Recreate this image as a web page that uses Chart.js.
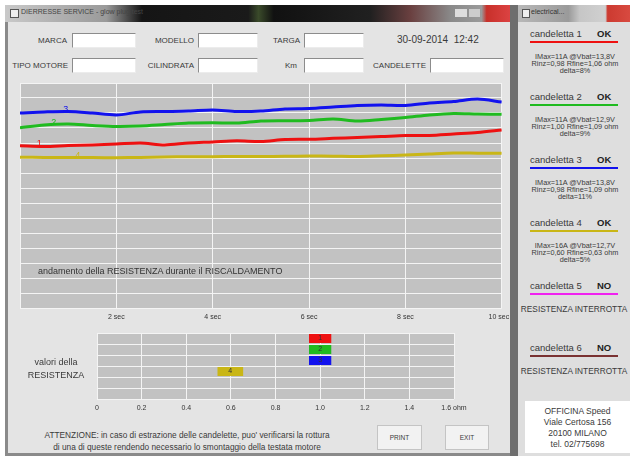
<!DOCTYPE html>
<html>
<head>
<meta charset="utf-8">
<script src="https://cdn.jsdelivr.net/npm/chart.js@4.4.1/dist/chart.umd.min.js"></script>
<style>
  body { margin:0; width:630px; height:459px; background:#fff; position:relative; overflow:hidden;
         font-family:"Liberation Sans", Arial, sans-serif; color:#3a3a3a; }
  .a { position:absolute; white-space:nowrap; }
  .lbl { font-size:8px; text-align:right; line-height:10px; }
  .inp { background:#fff; border:1px solid; border-color:#8c8c8c #ececec #ececec #8c8c8c; height:13px; }
  .btn { background:#f2f2f2; border:1px solid #c4c4c4; font-size:6.5px; text-align:center; line-height:23px; }
  .rc { left:518px; width:112px; text-align:center; }
</style>
</head>
<body>
<!-- finestra principale -->
<div class="a" style="left:5px;top:5px;width:507px;height:451px;background:#e4e4e4;"></div>
<div class="a" style="left:5px;top:5px;width:3px;height:451px;background:#8a8a8a;"></div>
<div class="a" style="left:5px;top:453px;width:507px;height:3px;background:#8a8a8a;"></div>
<div class="a" style="left:5px;top:5px;width:507px;height:17px;
  background:linear-gradient(90deg,#c9c9c9 0%,#9a9a9a 20%,#151515 27%,#1a1a1a 48%,#3a4a2a 50%,#111 53%,#202020 72%,#6a4040 80%,#8a8a8a 88%,#9a9a9a 94%,#c8302a 95%,#d44 100%);"></div>
<div class="a" style="left:10px;top:9px;width:7px;height:7px;background:#eee;border:1px solid #555;"></div>
<div class="a" style="left:21px;top:8px;font-size:7px;color:#444;">DIERRESSE SERVICE - glow plug test</div>
<div class="a" style="left:455px;top:9px;width:12px;height:8px;background:#ddd;"></div>
<div class="a" style="left:469px;top:9px;width:11px;height:8px;background:#ccc;"></div>

<!-- finestra laterale -->
<div class="a" style="left:510px;top:5px;width:8px;height:451px;background:#6e6e6e;"></div>
<div class="a" style="left:518px;top:5px;width:112px;height:451px;background:#dedede;"></div>
<div class="a" style="left:518px;top:5px;width:112px;height:17px;
  background:linear-gradient(90deg,#b8b8b8 0%,#9a9a9a 45%,#c6c6c6 55%,#d0d0d0 78%,#cc3a30 80%,#d84a40 100%);"></div>
<div class="a" style="left:522px;top:9px;width:6px;height:7px;background:#eee;border:1px solid #555;"></div>
<div class="a" style="left:531px;top:8px;font-size:7px;color:#333;">electrical...</div>
<div class="a" style="left:525px;top:401px;width:105px;height:52px;background:#fff;"></div>

<div id="form"></div>
<div id="side"></div>

<div class="a" style="left:10px;top:78px;width:510px;height:250px;"><canvas id="curve"></canvas></div>
<div class="a" style="left:38px;top:266px;font-size:9px;color:#333;">andamento della RESISTENZA durante il RISCALDAMENTO</div>

<div class="a" style="left:87px;top:328px;width:390px;height:90px;"><canvas id="values"></canvas></div>
<div class="a" style="left:20px;top:356px;width:72px;font-size:9px;line-height:13px;text-align:center;">valori della<br>RESISTENZA</div>

<div class="a" style="left:17px;top:429px;width:340px;font-size:8.3px;line-height:12px;text-align:center;">ATTENZIONE: in caso di estrazione delle candelette, puo' verificarsi la rottura<br>di una di queste rendendo necessario lo smontaggio della testata motore</div>
<div class="a btn" style="left:377px;top:425px;width:43px;height:23px;">PRINT</div>
<div class="a btn" style="left:445px;top:425px;width:42px;height:23px;">EXIT</div>

<script>
// tempo di riscaldamento (sec) e andamento della resistenza per candeletta
const timeSec = [0, 0.5, 1, 1.5, 2, 2.5, 3, 3.5, 4, 4.5, 5, 5.5, 6, 6.5, 7, 7.5, 8, 8.5, 9, 9.5, 10];
const curve1 = [10.82, 10.77, 10.83, 10.87, 10.93, 11.0, 10.87, 11.0, 11.07, 11.15, 11.1, 11.23, 11.25, 11.31, 11.37, 11.43, 11.5, 11.5, 11.6, 11.7, 11.87];
const curve2 = [12.02, 12.2, 12.27, 12.17, 12.1, 12.13, 12.23, 12.33, 12.35, 12.33, 12.47, 12.49, 12.5, 12.6, 12.47, 12.57, 12.7, 12.87, 12.97, 12.93, 12.91];
const curve3 = [13.0, 13.07, 13.1, 13.0, 12.87, 13.07, 13.1, 13.13, 13.2, 13.1, 13.13, 13.27, 13.3, 13.4, 13.5, 13.53, 13.5, 13.67, 13.77, 13.93, 13.73];
const curve4 = [10.05, 10.04, 10.03, 10.03, 10.02, 10.04, 10.07, 10.08, 10.09, 10.1, 10.1, 10.11, 10.13, 10.12, 10.1, 10.15, 10.2, 10.27, 10.33, 10.32, 10.31];
const curveTagSec = [0.4, 0.7, 0.95, 1.2];

// valori della resistenza (ohm), barra da..a
const plugNames = ['1', '2', '3', '4', '5', '6'];
const resFrom = [0.95, 0.95, 0.95, 0.54, null, null];
const resTo = [1.05, 1.05, 1.05, 0.655, null, null];

const plugStatus = ['OK', 'OK', 'OK', 'OK', 'NO', 'NO'];
const plugInfo = [
  ['IMax=11A  @Vbat=13,8V', 'Rinz=0,98  Rfine=1,06 ohm', 'delta=8%'],
  ['IMax=11A  @Vbat=12,9V', 'Rinz=1,00  Rfine=1,09 ohm', 'delta=9%'],
  ['IMax=11A  @Vbat=13,8V', 'Rinz=0,98  Rfine=1,09 ohm', 'delta=11%'],
  ['IMax=16A  @Vbat=12,7V', 'Rinz=0,60  Rfine=0,63 ohm', 'delta=5%'],
  ['RESISTENZA INTERROTTA'],
  ['RESISTENZA INTERROTTA']
];
const plugColors = ['#ee1111', '#20bb20', '#1212ee', '#c9b616', '#f022f0', '#7a3232'];

// campi del modulo
const form = document.getElementById('form');
[
  ['MARCA', 67, 72, 62, 33], ['MODELLO', 194, 198, 58, 33], ['TARGA', 300, 304, 58, 33],
  ['TIPO MOTORE', 68, 72, 62, 58], ['CILINDRATA', 194, 198, 58, 58], ['Km', 297, 304, 58, 58],
  ['CANDELETTE', 426, 430, 72, 58]
].forEach(([t, r, x, w, y]) => {
  form.insertAdjacentHTML('beforeend',
    `<div class="a lbl" style="left:${r - 80}px;width:80px;top:${y + 3}px;">${t}</div>` +
    `<div class="a inp" style="left:${x}px;top:${y}px;width:${w}px;"></div>`);
});
form.insertAdjacentHTML('beforeend', '<div class="a" style="left:397px;top:34px;font-size:10px;">30-09-2014&nbsp;&nbsp;12:42</div>');

// pannello candelette
const side = document.getElementById('side');
const tops = [28, 91, 154, 217, 280, 342];
plugNames.forEach((n, i) => {
  const y = tops[i];
  let h = `<div class="a" style="left:530px;top:${y}px;font-size:9.5px;">candeletta ${n}</div>` +
          `<div class="a" style="left:597px;top:${y}px;font-size:9.5px;font-weight:bold;color:#222;">${plugStatus[i]}</div>`;
  h += `<div class="a" style="left:530px;top:${y + 13}px;width:88px;height:2px;background:${plugColors[i]};"></div>`;
  if (plugInfo[i].length > 1) {
    h += `<div class="a rc" style="top:${y + 25}px;left:519px;font-size:7.3px;line-height:7px;">${plugInfo[i].join('<br>')}</div>`;
  } else {
    h += `<div class="a rc" style="top:${y + 24}px;font-size:8.3px;">${plugInfo[i][0]}</div>`;
  }
  side.insertAdjacentHTML('beforeend', h);
});
side.insertAdjacentHTML('beforeend',
  '<div class="a" style="left:525px;top:406px;width:105px;text-align:center;font-size:8.5px;line-height:11px;">OFFICINA Speed<br>Viale Certosa 156<br>20100 MILANO<br>tel. 02/775698</div>');

const plotBg = {
  id: 'plotBg',
  beforeDraw(c) {
    const a = c.chartArea, ctx = c.ctx;
    ctx.save();
    ctx.fillStyle = '#c2c2c2';
    ctx.fillRect(a.left, a.top, a.right - a.left, a.bottom - a.top);
    ctx.restore();
  }
};

const curveTags = {
  id: 'curveTags',
  afterDatasetsDraw(c) {
    const ctx = c.ctx, xs = c.scales.x, ys = c.scales.y;
    ctx.save();
    ctx.font = '9px "Liberation Sans", Arial';
    ctx.textAlign = 'center';
    ctx.textBaseline = 'bottom';
    c.data.datasets.forEach((ds, i) => {
      const t = curveTagSec[i];
      const k = Math.min(Math.floor(t / 0.5), timeSec.length - 2);
      const f = (t - timeSec[k]) / (timeSec[k + 1] - timeSec[k]);
      const v = ds.data[k].y + (ds.data[k + 1].y - ds.data[k].y) * f;
      ctx.fillStyle = ds.borderColor;
      ctx.fillText(ds.label, xs.getPixelForValue(t), ys.getPixelForValue(v) + 2);
    });
    ctx.restore();
  }
};

const curves = [curve1, curve2, curve3, curve4];
new Chart(document.getElementById('curve'), {
  type: 'line',
  data: {
    datasets: curves.map((d, i) => ({
      label: plugNames[i],
      data: d.map((v, k) => ({ x: timeSec[k], y: v })),
      borderColor: plugColors[i],
      borderWidth: 3,
      pointRadius: 0,
      tension: 0.3
    }))
  },
  options: {
    responsive: true, maintainAspectRatio: false, animation: false,
    layout: { padding: { left: 10, right: 18, top: 5, bottom: 0 } },
    plugins: { legend: { display: false }, tooltip: { enabled: false } },
    scales: {
      x: {
        type: 'linear', min: 0, max: 10,
        ticks: { stepSize: 2, padding: 5, color: '#333', font: { size: 7 },
                 // l'ultima etichetta sta dentro la finestra
                 callback: v => v === 0 ? '' : (v === 10 ? '10 sec\u00a0\u00a0\u00a0' : v + ' sec') },
        grid: { color: '#f4f4f4', lineWidth: 1, drawTicks: false },
        border: { display: false },
        afterFit: s => { s.height = 20; }
      },
      y: {
        min: 0, max: 15,
        ticks: { display: false, stepSize: 1 },
        grid: { color: '#f4f4f4', lineWidth: 1, drawTicks: false },
        border: { display: false },
        afterFit: s => { s.width = 0; }
      }
    }
  },
  plugins: [plotBg, curveTags]
});

const barTags = {
  id: 'barTags',
  afterDatasetsDraw(c) {
    const ctx = c.ctx, meta = c.getDatasetMeta(0);
    ctx.save();
    ctx.font = '7px "Liberation Sans", Arial';
    ctx.fillStyle = '#333';
    ctx.textAlign = 'center';
    ctx.textBaseline = 'middle';
    meta.data.forEach((el, i) => {
      if (resFrom[i] == null) return;
      const p = el.getProps(['x', 'base', 'y']);
      ctx.fillText(plugNames[i], (p.x + p.base) / 2, p.y);
    });
    ctx.restore();
  }
};

new Chart(document.getElementById('values'), {
  type: 'bar',
  data: {
    labels: plugNames,
    datasets: [{
      data: plugNames.map((_, i) => resFrom[i] == null ? null : [resFrom[i], resTo[i]]),
      backgroundColor: plugColors,
      borderWidth: 0,
      barPercentage: 0.82,
      categoryPercentage: 1
    }]
  },
  options: {
    indexAxis: 'y',
    responsive: true, maintainAspectRatio: false, animation: false,
    layout: { padding: { left: 10, right: 23, top: 5, bottom: 5 } },
    plugins: { legend: { display: false }, tooltip: { enabled: false } },
    scales: {
      x: {
        type: 'linear', min: 0, max: 1.6,
        ticks: { stepSize: 0.2, padding: 5, color: '#333', font: { size: 7 },
                 callback: v => v === 0 ? '0' : (Math.abs(v - 1.6) < 1e-6 ? '1.6 ohm' : v.toFixed(1)) },
        grid: { color: '#f4f4f4', lineWidth: 1, drawTicks: false },
        border: { display: false },
        afterFit: s => { s.height = 14; }
      },
      y: {
        ticks: { display: false },
        grid: { color: '#f4f4f4', lineWidth: 1, drawTicks: false, offset: true },
        border: { display: false },
        afterFit: s => { s.width = 0; }
      }
    }
  },
  plugins: [plotBg, barTags]
});
</script>
</body>
</html>
